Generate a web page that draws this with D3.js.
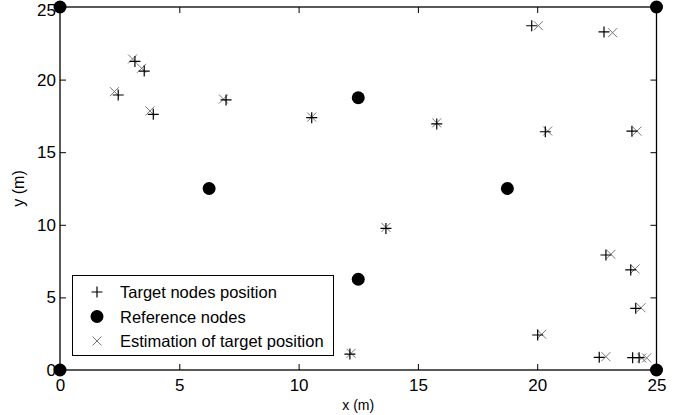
<!DOCTYPE html>
<html>
<head>
<meta charset="utf-8">
<script src="https://cdn.jsdelivr.net/npm/d3@7"></script>
<style>
body { margin: 0; background: #fff; }
text { font-family: "Liberation Sans", Arial, sans-serif; }
</style>
</head>
<body>
<script>
// target node positions (+)
var targetX = [3.14, 3.53, 2.44, 3.91, 6.96, 10.55, 15.79, 13.66, 12.15, 19.77, 22.8, 20.34, 23.97, 22.88, 23.92, 24.13, 20.02, 22.6, 24.0, 24.27];
var targetY = [21.25, 20.59, 18.94, 17.61, 18.6, 17.38, 16.95, 9.75, 1.1, 23.71, 23.28, 16.41, 16.45, 7.92, 6.89, 4.25, 2.41, 0.87, 0.85, 0.85];
// estimated positions (x)
var estX = [3.04, 3.42, 2.28, 3.77, 6.85, 10.55, 15.79, 13.66, 12.2, 20.05, 23.16, 20.44, 24.18, 23.09, 24.1, 24.35, 20.19, 22.88, 24.38, 24.59];
var estY = [21.42, 20.78, 19.17, 17.84, 18.66, 17.42, 17.02, 9.82, 1.15, 23.71, 23.23, 16.46, 16.45, 7.97, 6.96, 4.29, 2.46, 0.92, 0.83, 0.83];
// reference nodes
var refX = [0, 0, 25, 25, 6.25, 12.5, 18.75, 12.5];
var refY = [0, 25, 0, 25, 12.5, 18.75, 12.5, 6.25];
var ticks = [0, 5, 10, 15, 20, 25];
var legendLabels = ["Target nodes position", "Reference nodes", "Estimation of target position"];

var width = 688, height = 415;
var margin = {top: 7, right: 31.5, bottom: 45, left: 60};

var x = d3.scaleLinear().domain([0, 25]).range([margin.left, width - margin.right]);
var y = d3.scaleLinear().domain([0, 25]).range([height - margin.bottom, margin.top]);

var svg = d3.select("body").append("svg")
	.attr("width", width)
	.attr("height", height);

var tickLen = 6;

// axes, ticks pointing in (matlab style)
svg.append("g")
	.attr("transform", "translate(0," + y(0) + ")")
	.call(d3.axisBottom(x).tickValues(ticks).tickSize(-tickLen).tickPadding(9).tickFormat(d3.format("d")))
	.call(function(g) { g.select(".domain").remove(); });
var yAxis = svg.append("g")
	.attr("transform", "translate(" + x(0) + ",0)")
	.call(d3.axisLeft(y).tickValues(ticks).tickSize(-tickLen).tickPadding(4).tickFormat(d3.format("d")))
	.call(function(g) { g.select(".domain").remove(); });
// keep the top label inside the page
yAxis.selectAll(".tick text").filter(function(d) { return d === 25; }).attr("dy", "0.5em");
svg.append("g")
	.attr("transform", "translate(0," + y(25) + ")")
	.call(d3.axisTop(x).tickValues(ticks).tickSize(-tickLen).tickFormat(""))
	.call(function(g) { g.select(".domain").remove(); });
svg.append("g")
	.attr("transform", "translate(" + x(25) + ",0)")
	.call(d3.axisRight(y).tickValues(ticks).tickSize(-tickLen).tickFormat(""))
	.call(function(g) { g.select(".domain").remove(); });

svg.selectAll(".tick line").attr("stroke", "#000").attr("stroke-width", 1);
svg.selectAll(".tick text")
	.attr("fill", "#000")
	.style("font-size", "17px");

svg.append("rect")
	.attr("x", x(0)).attr("y", y(25))
	.attr("width", x(25) - x(0)).attr("height", y(0) - y(25))
	.attr("fill", "none").attr("stroke", "#000").attr("stroke-width", 1.3);

svg.append("text")
	.attr("x", (x(0) + x(25)) / 2).attr("y", 410)
	.attr("text-anchor", "middle")
	.style("font-size", "14px")
	.text("x (m)");
svg.append("text")
	.attr("transform", "translate(24," + ((y(0) + y(25)) / 2) + ") rotate(-90)")
	.attr("text-anchor", "middle")
	.style("font-size", "16px")
	.text("y (m)");

function plus(g, cx, cy, s, col) {
	g.append("path")
		.attr("d", "M" + (cx - s) + "," + cy + "H" + (cx + s) + "M" + cx + "," + (cy - s) + "V" + (cy + s))
		.attr("stroke", col).attr("stroke-width", 1.2).attr("fill", "none");
}
function cross(g, cx, cy, s, col) {
	g.append("path")
		.attr("d", "M" + (cx - s) + "," + (cy - s) + "L" + (cx + s) + "," + (cy + s) + "M" + (cx - s) + "," + (cy + s) + "L" + (cx + s) + "," + (cy - s))
		.attr("stroke", col).attr("stroke-width", 1).attr("fill", "none");
}

var marks = svg.append("g");
estX.forEach(function(d, i) { cross(marks, x(d), y(estY[i]), 4.5, "#777"); });
targetX.forEach(function(d, i) { plus(marks, x(d), y(targetY[i]), 5.5, "#000"); });

svg.selectAll("circle.ref")
	.data(refX)
	.enter().append("circle")
	.attr("class", "ref")
	.attr("r", 6.5)
	.attr("cx", function(d) { return x(d); })
	.attr("cy", function(d, i) { return y(refY[i]); })
	.style("fill", "#000");

// legend
var lg = svg.append("g");
lg.append("rect")
	.attr("x", 72.5).attr("y", 275.5)
	.attr("width", 261).attr("height", 80)
	.attr("fill", "#fff").attr("stroke", "#000").attr("stroke-width", 1);
var rowY = [292, 316.5, 341];
plus(lg, 97, rowY[0], 5.5, "#000");
lg.append("circle").attr("cx", 97).attr("cy", rowY[1]).attr("r", 6.5).style("fill", "#000");
cross(lg, 97, rowY[2], 4.5, "#777");
lg.selectAll("text")
	.data(legendLabels)
	.enter().append("text")
	.attr("x", 120)
	.attr("y", function(d, i) { return rowY[i] + 6; })
	.style("font-size", "16.5px")
	.text(function(d) { return d; });
</script>
</body>
</html>
